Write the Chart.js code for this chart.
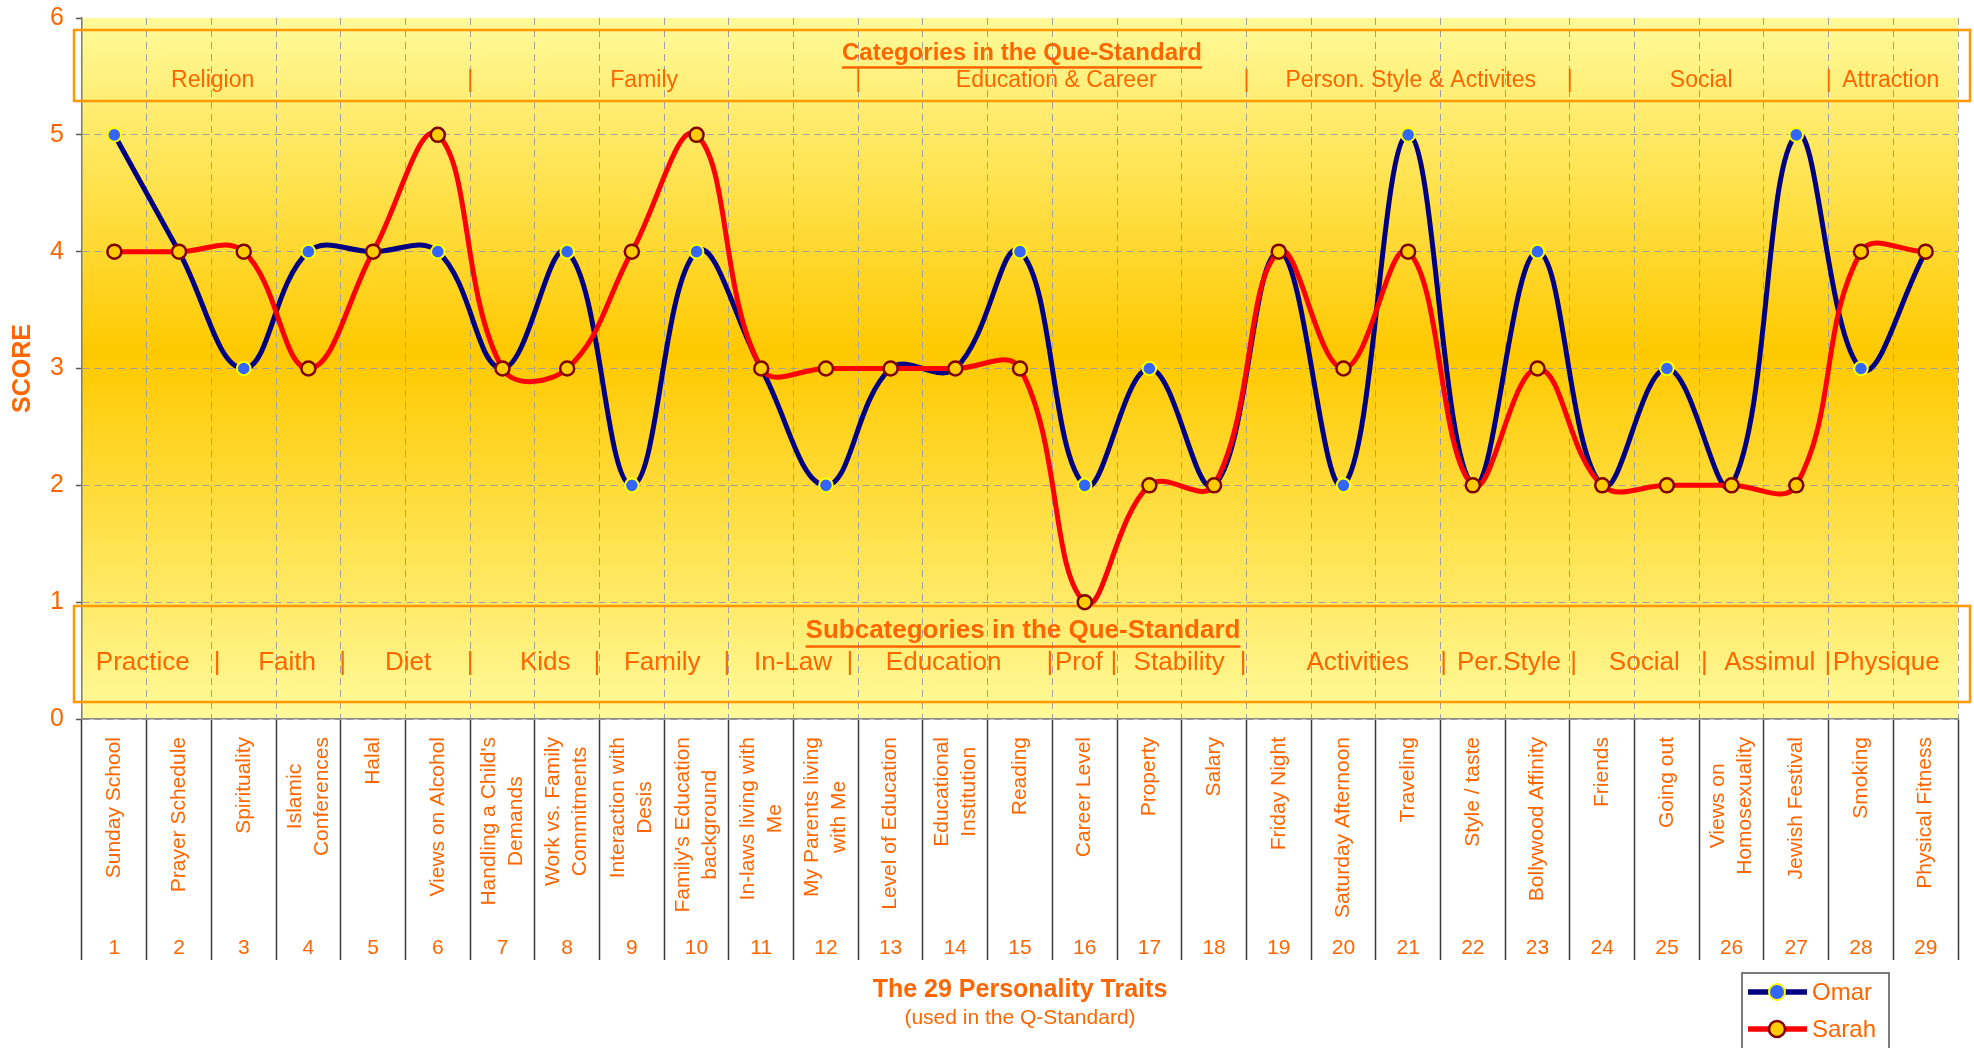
<!DOCTYPE html>
<html>
<head>
<meta charset="utf-8">
<title>Que-Standard traits</title>
<script src="https://cdn.jsdelivr.net/npm/chart.js@4.4.0/dist/chart.umd.min.js"></script>
<style>
  html, body { margin: 0; padding: 0; background: #fff; }
</style>
</head>
<body>
<canvas id="QChart" width="1974" height="1048"></canvas>
<script>
// the 29 traits (line breaks as in the original axis)
const traits = [
  ['Sunday School'], ['Prayer Schedule'], ['Spirituality'], ['Islamic', 'Conferences'], ['Halal'],
  ['Views on Alcohol'], ["Handling a Child's", 'Demands'], ['Work vs. Family', 'Commitments'],
  ['Interaction with', 'Desis'], ["Family's Education", 'background'], ['In-laws living with', 'Me'],
  ['My Parents living', 'with Me'], ['Level of Education'], ['Educational', 'Institution'], ['Reading'],
  ['Career Level'], ['Property'], ['Salary'], ['Friday Night'], ['Saturday Afternoon'], ['Traveling'],
  ['Style / taste'], ['Bollywood Affinity'], ['Friends'], ['Going out'], ['Views on', 'Homosexuality'],
  ['Jewish Festival'], ['Smoking'], ['Physical Fitness']
];

const omarScores  = [5, 4, 3, 4, 4, 4, 3, 4, 2, 4, 3, 2, 3, 3, 4, 2, 3, 2, 4, 2, 5, 2, 4, 2, 3, 2, 5, 3, 4];
const sarahScores = [4, 4, 4, 3, 4, 5, 3, 3, 4, 5, 3, 3, 3, 3, 3, 1, 2, 2, 4, 3, 4, 2, 3, 2, 2, 2, 2, 4, 4];

const yTicks = [0, 1, 2, 3, 4, 5, 6];

// category / subcategory rows (text), with where they sit in trait units
const categories = ['Religion', 'Family', 'Education & Career', 'Person. Style & Activites', 'Social', 'Attraction'];
const categoryAt = [1.52, 8.19, 14.56, 20.04, 24.53, 27.46];
const categorySeps = [5.5, 11.5, 17.5, 22.5, 26.5];

const subcategories = ['Practice', 'Faith', 'Diet', 'Kids', 'Family', 'In-Law', 'Education', 'Prof',
  'Stability', 'Activities', 'Per.Style', 'Social', 'Assimul', 'Physique'];
const subcategoryAt = [0.44, 2.67, 4.54, 6.66, 8.47, 10.49, 12.82, 14.91, 16.46, 19.22, 21.56, 23.65, 25.59, 27.39];
const subcategorySeps = [1.59, 3.53, 5.5, 7.46, 9.47, 11.37, 14.46, 15.45, 17.45, 20.55, 22.56, 24.58, 26.49];

const ORANGE = '#FF6600';
const FONT = "'Liberation Sans', Arial, sans-serif";
Chart.defaults.font.family = FONT;

const ctx = document.getElementById('QChart').getContext('2d');

// yellow/gold background of the plot
const plotBackground = {
  id: 'plotBackground',
  beforeDraw(chart) {
    const {ctx, chartArea: a} = chart;
    const g = ctx.createLinearGradient(0, a.top, 0, a.bottom);
    g.addColorStop(0, '#FFFA9A');
    g.addColorStop(0.48, '#FFC900');
    g.addColorStop(1, '#FFFA9A');
    ctx.save();
    ctx.fillStyle = g;
    ctx.fillRect(a.left, a.top, a.right - a.left, a.bottom - a.top);
    ctx.restore();
  }
};

function textRow(chart, names, at, seps, y, size) {
  const {ctx} = chart;
  const xs = chart.scales.x;
  ctx.font = size + 'px ' + FONT;
  ctx.textAlign = 'center';
  ctx.textBaseline = 'middle';
  names.forEach((t, i) => ctx.fillText(t, xs.getPixelForValue(at[i]), y));
  seps.forEach(s => ctx.fillText('|', xs.getPixelForValue(s), y));
}

function underlinedTitle(ctx, text, x, y, size) {
  ctx.font = 'bold ' + size + 'px ' + FONT;
  ctx.textAlign = 'center';
  ctx.textBaseline = 'middle';
  ctx.fillText(text, x, y);
  const w = ctx.measureText(text).width;
  ctx.fillRect(x - w / 2, y + size * 0.55, w, 2.5);
}

// the two orange boxes with categories / subcategories
const queBoxes = {
  id: 'queBoxes',
  beforeDatasetsDraw(chart) {
    const {ctx, chartArea: a} = chart;
    const mid = (a.left + a.right) / 2;
    ctx.save();
    ctx.strokeStyle = '#FF9900';
    ctx.lineWidth = 2.5;
    ctx.strokeRect(74, 30, 1896, 71);
    ctx.strokeRect(74, 606, 1896, 96);
    ctx.fillStyle = ORANGE;
    underlinedTitle(ctx, 'Categories in the Que-Standard', mid + 2, 53, 24);
    textRow(chart, categories, categoryAt, categorySeps, 81, 23);
    underlinedTitle(ctx, 'Subcategories in the Que-Standard', mid + 3, 631, 26);
    textRow(chart, subcategories, subcategoryAt, subcategorySeps, 663, 26);
    ctx.restore();
  }
};

// rotated trait names under the axis, subtitle and legend
const traitTable = {
  id: 'traitTable',
  afterDraw(chart) {
    const {ctx, chartArea: a} = chart;
    const xs = chart.scales.x;
    ctx.save();
    ctx.fillStyle = ORANGE;
    ctx.font = '21px ' + FONT;
    ctx.textAlign = 'center';
    ctx.textBaseline = 'middle';
    chart.data.labels.forEach((lines, i) => {
      const px = xs.getPixelForValue(i);
      const longest = Math.max(...lines.map(l => ctx.measureText(l).width));
      ctx.save();
      ctx.translate(px, a.bottom + 18);
      ctx.rotate(-Math.PI / 2);
      lines.forEach((l, j) => ctx.fillText(l, -longest / 2, (j - (lines.length - 1) / 2) * 27));
      ctx.restore();
    });

    ctx.fillText('(used in the Q-Standard)', (a.left + a.right) / 2, 1018);

    // legend
    ctx.fillStyle = '#fff';
    ctx.fillRect(1742, 973, 147, 90);
    ctx.strokeStyle = '#505050';
    ctx.lineWidth = 1.5;
    ctx.strokeRect(1742, 973, 147, 90);
    chart.data.datasets.forEach((ds, k) => {
      const y = 992 + k * 37;
      ctx.strokeStyle = ds.borderColor;
      ctx.lineWidth = 5.5;
      ctx.beginPath();
      ctx.moveTo(1748, y);
      ctx.lineTo(1807, y);
      ctx.stroke();
      ctx.beginPath();
      ctx.arc(1777, y, 8, 0, Math.PI * 2);
      ctx.fillStyle = ds.pointBackgroundColor;
      ctx.fill();
      ctx.lineWidth = ds.pointBorderWidth;
      ctx.strokeStyle = ds.pointBorderColor;
      ctx.stroke();
      ctx.fillStyle = ORANGE;
      ctx.font = '24px ' + FONT;
      ctx.textAlign = 'left';
      ctx.fillText(ds.label, 1812, y + 1);
    });
    ctx.restore();
  }
};

const data = {
  labels: traits,
  datasets: [
    {
      label: 'Omar',
      data: omarScores,
      borderColor: '#000080',
      borderWidth: 5,
      pointBackgroundColor: '#3366FF',
      pointBorderColor: '#FFFF00',
      pointBorderWidth: 2,
      pointRadius: 6.8,
      tension: 0.4,
      order: 1
    },
    {
      label: 'Sarah',
      data: sarahScores,
      borderColor: '#FF0000',
      borderWidth: 5,
      pointBackgroundColor: '#FFCC00',
      pointBorderColor: '#800000',
      pointBorderWidth: 2.5,
      pointRadius: 7,
      tension: 0.4,
      order: 0
    }
  ]
};

const config = {
  type: 'line',
  data: data,
  options: {
    responsive: false,
    animation: false,
    devicePixelRatio: 1,
    layout: { padding: { top: 18, right: 16, left: 0, bottom: 0 } },
    plugins: {
      legend: { display: false },
      tooltip: { enabled: false }
    },
    scales: {
      x: {
        type: 'category',
        offset: true,
        grid: {
          offset: true,
          color: '#A0A0A0',
          lineWidth: 1,
          tickLength: 241,
          tickColor: '#3A3A3A',
          tickWidth: 1.5,
          tickBorderDash: []
        },
        border: { display: true, color: '#8A8A8A', width: 1.5, dash: [7, 5] },
        ticks: {
          autoSkip: false,
          maxRotation: 0,
          minRotation: 0,
          padding: -24,
          color: ORANGE,
          font: { size: 21 },
          callback: (value, index) => String(index + 1)
        },
        title: {
          display: true,
          text: 'The 29 Personality Traits',
          color: ORANGE,
          font: { size: 25, weight: 'bold' },
          padding: { top: 0, bottom: 43 }
        },
        afterFit: scale => { scale.height = 329; }
      },
      y: {
        min: yTicks[0],
        max: yTicks[yTicks.length - 1],
        afterBuildTicks: scale => { scale.ticks = yTicks.map(v => ({value: v})); },
        ticks: { color: ORANGE, font: { size: 25 }, padding: 12 },
        grid: {
          color: c => (c.tick && c.tick.value === 6) ? 'rgba(0,0,0,0)' : '#A0A0A0',
          tickColor: '#555555',
          tickLength: 6,
          tickWidth: 1.5
        },
        border: { display: true, color: '#7A7A7A', width: 1.5, dash: [7, 5] },
        title: {
          display: true,
          text: 'SCORE',
          color: ORANGE,
          font: { size: 25, weight: 'bold' },
          padding: { top: 8, bottom: 0 }
        },
        afterFit: scale => {
          scale.width = 82;
          scale.paddingTop = 0;
          scale.paddingBottom = 0;
        }
      }
    }
  },
  plugins: [plotBackground, queBoxes, traitTable]
};

const scoreChart = new Chart(ctx, config);
</script>
</body>
</html>
